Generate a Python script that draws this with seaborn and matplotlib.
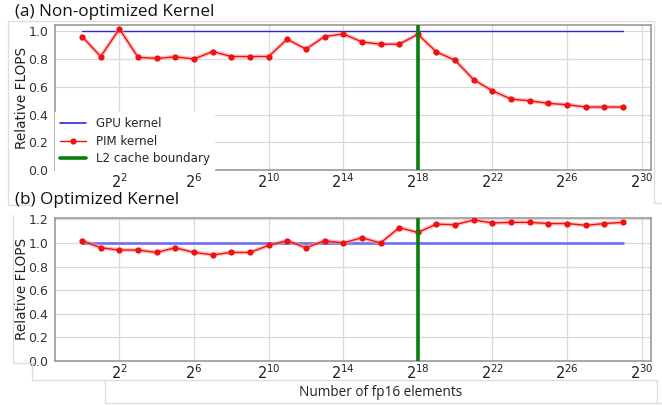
import numpy as np
import pandas as pd
import matplotlib
matplotlib.use("Agg")
import matplotlib.pyplot as plt
from matplotlib.lines import Line2D
import seaborn as sns

exponents = list(range(0, 30))
pim_nonopt = [0.962, 0.818, 1.017, 0.813, 0.804, 0.816, 0.800, 0.854, 0.818, 0.818,
              0.818, 0.943, 0.871, 0.962, 0.981, 0.923, 0.907, 0.907, 0.978, 0.851,
              0.791, 0.650, 0.571, 0.511, 0.499, 0.480, 0.471, 0.454, 0.454, 0.454]
pim_opt = [1.02, 0.96, 0.94, 0.94, 0.92, 0.96, 0.92, 0.90, 0.92, 0.92,
           0.98, 1.02, 0.96, 1.02, 1.00, 1.045, 1.00, 1.13, 1.09, 1.16,
           1.155, 1.195, 1.17, 1.175, 1.175, 1.165, 1.165, 1.15, 1.165, 1.175]
gpu = [1.0] * 30
l2_boundary_exp = 18
xtick_exps = [2, 6, 10, 14, 18, 22, 26, 30]
yticks_a = [0.0, 0.2, 0.4, 0.6, 0.8, 1.0]
yticks_b = [0.0, 0.2, 0.4, 0.6, 0.8, 1.0, 1.2]

sizes = [2.0 ** e for e in exponents]
df_a = pd.DataFrame({"n": sizes, "GPU": gpu, "PIM": pim_nonopt})
df_b = pd.DataFrame({"n": sizes, "GPU": gpu, "PIM": pim_opt})

sns.set_style("whitegrid")
plt.rcParams["font.family"] = ["DejaVu Sans"]

W, H = 662.0, 405.0
fig = plt.figure(figsize=(6.62, 4.05), dpi=100)
ax1 = fig.add_axes([0.0831, 0.5802, 0.9003, 0.358])
ax2 = fig.add_axes([0.0831, 0.1086, 0.9003, 0.354])

def style(ax, df, ylim, yticks, gpu_color, gpu_lw):
    sns.lineplot(data=df, x="n", y="GPU", ax=ax, color=gpu_color, lw=gpu_lw,
                 legend=False, zorder=3)
    sns.lineplot(data=df, x="n", y="PIM", ax=ax, color="#ff9a9a", lw=3.0,
                 alpha=0.6, zorder=3, legend=False)
    sns.lineplot(data=df, x="n", y="PIM", ax=ax, color="#ee1111", lw=1.0,
                 marker="o", markersize=4.5, markeredgewidth=0,
                 legend=False, zorder=4)
    ax.axvline(2.0 ** l2_boundary_exp, color="#0a7d0a", lw=2.6, zorder=5)
    ax.set_xscale("log", base=2)
    ax.set_xlim(2 ** -1.45, 2 ** 30.5)
    ax.set_ylim(*ylim)
    ax.set_xticks([2.0 ** e for e in xtick_exps])
    ax.set_xticklabels([f"$2^{{{e}}}$" for e in xtick_exps], fontsize=10.5, color="#222222")
    ax.minorticks_off()
    ax.set_yticks(yticks)
    ax.set_yticklabels([f"{v:.1f}" for v in yticks], fontsize=9, color="#333333")
    ax.grid(True, color="#d9d9d9", lw=0.9)
    ax.tick_params(axis="x", length=0, pad=2)
    ax.tick_params(axis="y", length=0, pad=5)
    for s in ax.spines.values():
        s.set_visible(True)
        s.set_color("#9a9a9a")
        s.set_linewidth(1.2)
    ax.set_xlabel("")
    ax.set_ylabel("Relative FLOPS", fontsize=9.8, color="#222222")
    ax.yaxis.set_label_coords((29 - 55) / 596.0, 0.5)

style(ax1, df_a, (0.0, 1.045), yticks_a, "#2a2ad8", 1.0)
style(ax2, df_b, (0.0, 1.215), yticks_b, "#7474f0", 2.0)

handles = [Line2D([], [], color="#2a2ad8", lw=1.2),
           Line2D([], [], color="#ee1111", lw=1.0, marker="o", markersize=4.5,
                  markeredgewidth=0),
           Line2D([], [], color="#0a7d0a", lw=2.6)]
leg = ax1.legend(handles, ["GPU kernel", "PIM kernel", "L2 cache boundary"],
                 loc="lower left", fontsize=8.6, frameon=True, fancybox=False,
                 borderaxespad=0.0, handlelength=2.2, labelspacing=0.38,
                 borderpad=0.4, framealpha=1.0, handletextpad=0.8)
leg.get_frame().set_edgecolor("white")
leg.set_zorder(10)

fig.text(380.5 / W, 1 - 392 / H, "Number of fp16 elements", fontsize=9.8,
         family=["Open Sans", "DejaVu Sans"], va="center", ha="center", color="#222222")

fig.text(0.022, 0.99, "(a) Non-optimized Kernel", fontsize=12.3,
         family=["Open Sans", "DejaVu Sans"], va="top", ha="left", color="#111111")
fig.text(0.022, 0.526, "(b) Optimized Kernel", fontsize=12.3,
         family=["Open Sans", "DejaVu Sans"], va="top", ha="left", color="#111111")

# faint screenshot frame lines
def fline(xs, ys):
    fig.add_artist(Line2D([x / W for x in xs], [1 - y / H for y in ys],
                          color="#dcdcdc", lw=0.9, transform=fig.transFigure))
fline([8, 8, 30], [21, 205, 205])
fline([8, 654, 654, 662], [21, 21, 203, 203])
fline([13, 13, 32, 32, 105, 105, 662], [215, 363, 363, 380, 380, 403, 403])
fline([105, 657, 657], [380, 380, 403])

fig.savefig("out.png", dpi=100)
